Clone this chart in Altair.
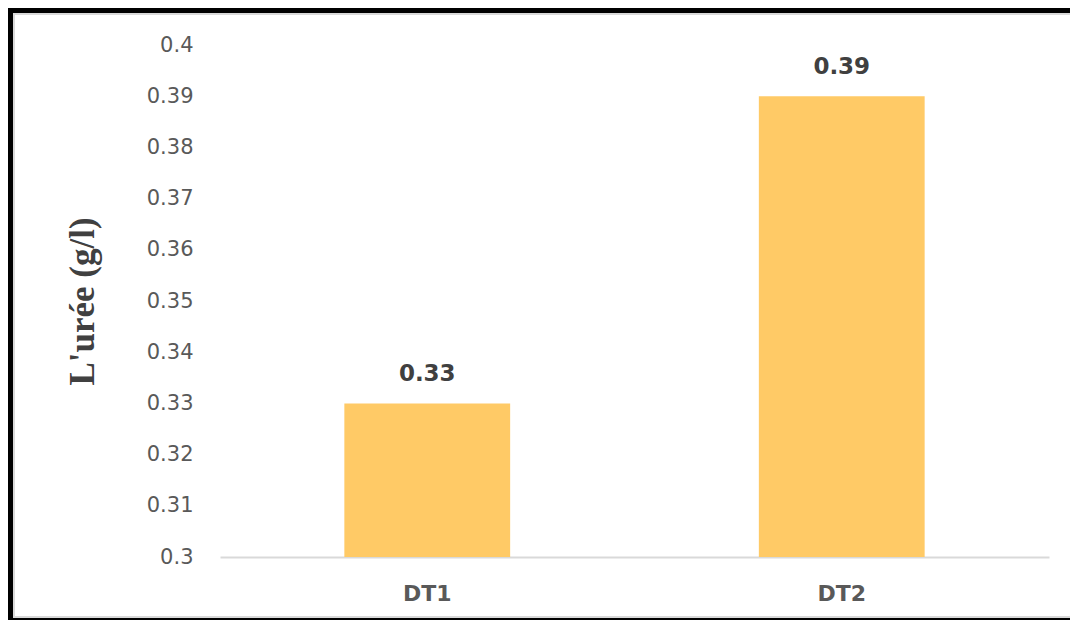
import altair as alt
import pandas as pd

categories = ["DT1", "DT2"]
values = [0.33, 0.39]
labels = ["0.33", "0.39"]
y_ticks = [0.3, 0.31, 0.32, 0.33, 0.34, 0.35, 0.36, 0.37, 0.38, 0.39, 0.4]

df = pd.DataFrame({"cat": categories, "val": values, "lab": labels})

PL, PT, W, H = 212, 37, 829, 512
TOTAL_W, TOTAL_H = 1062, 612

base = alt.Chart(df)

x_enc = alt.X(
    "cat:N",
    sort=categories,
    title=None,
    scale=alt.Scale(paddingInner=0.6, paddingOuter=0.3),
    axis=alt.Axis(
        labelAngle=0,
        ticks=False,
        domainColor="#d9d9d9",
        domainWidth=2,
        labelFont="DejaVu Sans",
        labelFontWeight="bold",
        labelFontSize=22,
        labelColor="#595959",
        labelPadding=26,
        labelBaseline="top",
        grid=False,
    ),
)

y_enc = alt.Y(
    "val:Q",
    scale=alt.Scale(domain=[0.3, 0.4], nice=False, zero=False),
    axis=alt.Axis(
        values=y_ticks,
        format="~g",
        grid=False,
        domain=False,
        ticks=False,
        labelFont="DejaVu Sans",
        labelFontSize=21,
        labelColor="#595959",
        labelPadding=27,
        title="L'urée (g/l)",
        titleFont="Liberation Serif",
        titleFontSize=35,
        titleFontWeight="bold",
        titleColor="#404040",
        titleAngle=270,
        titleAlign="center",
        titleBaseline="alphabetic",
        titleX=-127,
        titleY=256,
    ),
)

bars = base.mark_bar(color="#FFCA66").encode(
    x=x_enc,
    y=y_enc,
    y2=alt.datum(0.3),
)

texts = base.mark_text(
    font="DejaVu Sans",
    fontWeight="bold",
    fontSize=23,
    color="#404040",
    baseline="alphabetic",
    dy=-22,
).encode(
    x=alt.X("cat:N", sort=categories),
    y=alt.Y("val:Q"),
    text="lab:N",
)

def rule(x, x2, y, y2, color, sw):
    return alt.Chart(df.head(1)).mark_rule(color=color, strokeWidth=sw).encode(
        x=alt.value(x), x2=alt.value(x2), y=alt.value(y), y2=alt.value(y2)
    )

left_x = -PL
right_x = TOTAL_W - PL
top_y = -PT
bot_y = TOTAL_H - PT

frame = [
    rule(left_x, right_x, top_y + 6, top_y + 6, "#d9d9d9", 2),
    rule(left_x + 6, left_x + 6, top_y, bot_y, "#d9d9d9", 2),
    rule(left_x, right_x, bot_y - 3, bot_y - 3, "#d9d9d9", 2),
    rule(left_x, right_x, top_y + 2.5, top_y + 2.5, "#000000", 5),
    rule(left_x + 2.5, left_x + 2.5, top_y, bot_y, "#000000", 5),
    rule(left_x, right_x, bot_y - 1, bot_y - 1, "#000000", 2),
]

chart = alt.layer(bars, texts, *frame).properties(
    width=W,
    height=H,
    padding={"left": PL, "top": PT, "right": TOTAL_W - PL - W, "bottom": TOTAL_H - PT - H},
    autosize=alt.AutoSizeParams(type="none"),
    background="white",
).configure_view(stroke=None)

chart.save("out.html", embed_options={"renderer": "svg", "actions": False})
